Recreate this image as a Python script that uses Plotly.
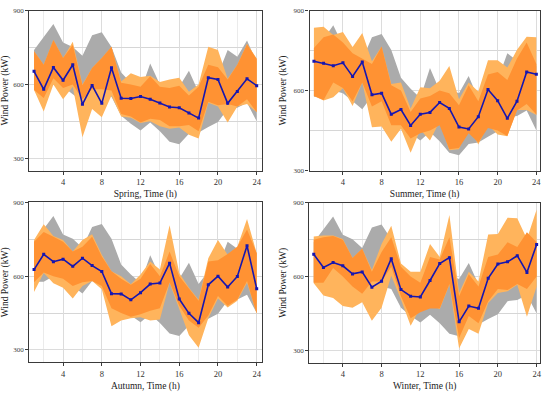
import plotly.graph_objects as go

hours = list(range(1, 25))
seasons = ["Spring", "Summer", "Autumn", "Winter"]

# Common grey envelope (same in all panels)
grey_upper = [740, 793, 845, 770, 752, 716, 800, 812, 752, 648, 607, 572,
              685, 600, 605, 590, 655, 568, 620, 640, 740, 712, 778, 690]
grey_lower = [577, 577, 600, 590, 560, 530, 580, 560, 550, 473, 440, 413,
              445, 410, 367, 357, 400, 405, 427, 447, 500, 505, 525, 450]

# Spring
spring_mean = [653, 580, 669, 617, 680, 519, 596, 523, 668, 544, 543, 551,
               540, 524, 508, 505, 484, 463, 627, 620, 523, 571, 623, 595]
spring_wide_up = [735, 680, 780, 707, 773, 600, 667, 707, 753, 612, 645, 630,
                  635, 610, 620, 627, 570, 600, 753, 740, 623, 680, 765, 705]
spring_wide_lo = [577, 490, 600, 540, 590, 385, 500, 467, 555, 470, 465, 443,
                  450, 430, 420, 425, 395, 380, 525, 510, 445, 510, 520, 487]
spring_narrow_up = [735, 680, 780, 707, 760, 597, 667, 707, 753, 607, 600, 590,
                    633, 590, 585, 595, 555, 590, 680, 670, 620, 680, 763, 703]
spring_narrow_lo = [577, 545, 625, 585, 600, 540, 580, 580, 575, 480, 470, 445,
                    460, 455, 430, 430, 435, 410, 530, 515, 520, 510, 540, 487]

# Summer
summer_mean = [710, 702, 693, 704, 653, 707, 584, 590, 511, 529, 469, 511,
               518, 555, 533, 463, 456, 502, 604, 562, 496, 560, 670, 661]
summer_wide_up = [836, 839, 808, 820, 763, 816, 710, 765, 625, 630, 533, 612,
                  609, 637, 692, 567, 630, 596, 714, 714, 686, 753, 802, 800]
summer_wide_lo = [580, 563, 575, 609, 542, 630, 462, 465, 408, 457, 367, 453,
                  413, 484, 376, 380, 465, 398, 471, 435, 429, 527, 527, 508]
summer_narrow_up = [760, 800, 810, 780, 740, 720, 700, 765, 620, 600, 520, 570,
                    580, 600, 590, 545, 620, 560, 660, 670, 640, 720, 780, 700]
summer_narrow_lo = [580, 565, 630, 610, 560, 630, 540, 560, 470, 470, 420, 440,
                    450, 470, 380, 385, 440, 405, 460, 450, 430, 525, 550, 510]

# Autumn
autumn_mean = [627, 689, 659, 669, 640, 673, 643, 619, 529, 528, 504, 533,
               568, 572, 653, 507, 449, 411, 565, 600, 556, 599, 724, 549]
autumn_wide_up = [747, 811, 763, 747, 700, 747, 771, 687, 620, 600, 567, 607,
                  660, 627, 807, 613, 553, 504, 673, 747, 687, 720, 833, 693]
autumn_wide_lo = [536, 613, 571, 553, 509, 560, 580, 547, 397, 420, 429, 433,
                  420, 424, 573, 467, 360, 309, 429, 509, 473, 500, 573, 447]
autumn_narrow_up = [740, 780, 760, 740, 700, 720, 760, 680, 620, 590, 565, 590,
                    650, 600, 700, 600, 550, 500, 660, 665, 690, 720, 790, 693]
autumn_narrow_lo = [575, 615, 600, 590, 560, 575, 580, 560, 470, 450, 435, 445,
                    460, 470, 575, 480, 420, 390, 440, 520, 480, 505, 580, 447]

# Winter
winter_mean = [691, 637, 657, 644, 611, 619, 557, 581, 673, 547, 520, 517,
               584, 653, 677, 416, 480, 471, 593, 651, 660, 685, 617, 731]
winter_wide_up = [763, 767, 767, 753, 676, 713, 627, 733, 807, 653, 620, 620,
                  733, 680, 851, 533, 620, 580, 771, 773, 840, 837, 753, 873]
winter_wide_lo = [573, 523, 513, 480, 473, 496, 420, 473, 603, 507, 400, 473,
                  487, 467, 567, 307, 387, 367, 493, 533, 540, 567, 437, 560]
winter_narrow_up = [750, 760, 765, 750, 676, 713, 620, 700, 760, 640, 600, 575,
                    680, 670, 760, 520, 610, 560, 680, 690, 740, 720, 780, 740]
winter_narrow_lo = [575, 575, 635, 600, 560, 530, 580, 580, 640, 520, 430, 455,
                    470, 470, 570, 350, 440, 410, 500, 550, 545, 570, 550, 600]

data = {
    "Spring": (spring_mean, spring_wide_up, spring_wide_lo, spring_narrow_up, spring_narrow_lo),
    "Summer": (summer_mean, summer_wide_up, summer_wide_lo, summer_narrow_up, summer_narrow_lo),
    "Autumn": (autumn_mean, autumn_wide_up, autumn_wide_lo, autumn_narrow_up, autumn_narrow_lo),
    "Winter": (winter_mean, winter_wide_up, winter_wide_lo, winter_narrow_up, winter_narrow_lo),
}

W, H = 550, 395
# panel boxes in pixels: left, right, top, bottom
boxes = {
    "Spring": (29.3, 262.5, 6.7, 170.0),
    "Summer": (310.7, 541.7, 6.7, 170.0),
    "Autumn": (29.3, 262.5, 202.5, 365.7),
    "Winter": (310.5, 542.0, 203.0, 366.0),
}
xranges = {"Spring": [0.5, 24.5], "Summer": [0.55, 24.35],
           "Autumn": [0.5, 24.5], "Winter": [0.55, 24.35]}
yranges = {"Spring": [250, 900], "Summer": [300, 900],
           "Autumn": [250, 900], "Winter": [250, 900]}

GREY = "#ABABAB"
LIGHT = "#FFB45C"
DARK = "#FF9233"
BLUE = "#1616B0"
FONT = "Liberation Serif"

fig = go.Figure()
layout = {}
for i, s in enumerate(seasons):
    n = "" if i == 0 else str(i + 1)
    xa, ya = "x" + n, "y" + n
    mean, wu, wl, nu, nl = data[s]
    poly_x = hours + hours[::-1]
    for up, lo, col in [(grey_upper, grey_lower, GREY), (wu, wl, LIGHT), (nu, nl, DARK)]:
        fig.add_trace(go.Scatter(x=poly_x, y=up + lo[::-1], fill="toself",
                                 fillcolor=col, line=dict(width=0), mode="lines",
                                 hoverinfo="skip", showlegend=False,
                                 xaxis=xa, yaxis=ya))
    fig.add_trace(go.Scatter(x=hours, y=mean, mode="lines+markers",
                             line=dict(color=BLUE, width=1.6),
                             marker=dict(symbol="square", size=3, color=BLUE),
                             showlegend=False, xaxis=xa, yaxis=ya))
    l, r, t, b = boxes[s]
    common = dict(showline=True, linecolor="#3a3a3a", linewidth=1.2, mirror=True,
                  ticks="outside", ticklen=3, tickcolor="#3a3a3a",
                  gridcolor="#DCDCDC", gridwidth=0.8, zeroline=False,
                  tickfont=dict(family=FONT, size=8.5, color="#333"))
    layout["xaxis" + n] = dict(
        common, domain=[l / W, r / W], range=xranges[s], anchor=ya,
        tickmode="linear", tick0=0, dtick=4,
        minor=dict(tickmode="linear", tick0=0, dtick=2, showgrid=True,
                   gridcolor="#EBEBEB", gridwidth=0.7),
        title=dict(text=f"{s}, Time (h)", font=dict(family=FONT, size=9.5, color="#222"),
                   standoff=4))
    layout["yaxis" + n] = dict(
        common, domain=[1 - b / H, 1 - t / H], range=yranges[s], anchor=xa,
        tickmode="linear", tick0=0, dtick=300,
        minor=dict(tickmode="linear", tick0=0, dtick=150, showgrid=True,
                   gridcolor="#D6D6D6", gridwidth=0.8),
        title=dict(text="Wind Power (kW)", font=dict(family=FONT, size=9.5, color="#222"),
                   standoff=5))
    layout["yaxis" + n]["tickfont"] = dict(family=FONT, size=7, color="#444")

fig.update_layout(width=W, height=H, margin=dict(l=0, r=0, t=0, b=0),
                  paper_bgcolor="white", plot_bgcolor="white", **layout)
fig.write_html("out.html", config={"displayModeBar": False},
               post_script="document.body.style.margin='0';document.body.style.overflow='hidden';")
